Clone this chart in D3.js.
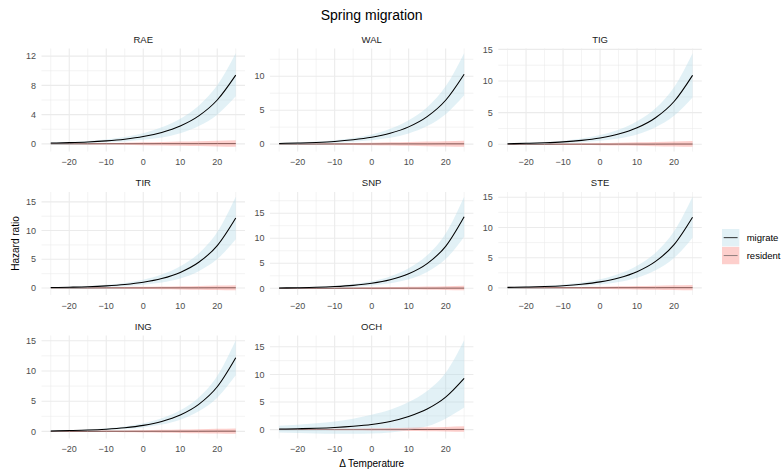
<!DOCTYPE html>
<html>
<head>
<meta charset="utf-8">
<script src="https://cdn.jsdelivr.net/npm/d3@7"></script>
<style>
  body { margin: 0; background: #fff; }
  text { font-family: "Liberation Sans", Arial, Helvetica, sans-serif; }
</style>
</head>
<body>
<div id="chart"></div>
<script>
// temperature anomaly values the fits were read at
var temps = [-25, -20, -15, -10, -5, 0, 5, 10, 15, 20, 25];
var sites = ["RAE", "WAL", "TIG", "TIR", "SNP", "STE", "ING", "OCH"];
var xTicks = [-20, -10, 0, 10, 20];

// migrate: estimate, lower and upper band
var migEstRAE = [0.11, 0.17, 0.26, 0.41, 0.64, 1.0, 1.57, 2.45, 3.83, 6.0, 9.4];
var migLoRAE  = [0.04, 0.07, 0.12, 0.21, 0.34, 0.55, 0.87, 1.45, 2.43, 4.0, 6.5];
var migHiRAE  = [0.18, 0.27, 0.40, 0.61, 0.94, 1.45, 2.27, 3.45, 5.23, 8.0, 12.4];

var migEstWAL = [0.10, 0.16, 0.25, 0.39, 0.63, 1.0, 1.59, 2.54, 4.05, 6.46, 10.3];
var migLoWAL  = [0.04, 0.07, 0.12, 0.20, 0.35, 0.58, 0.93, 1.57, 2.65, 4.41, 7.2];
var migHiWAL  = [0.16, 0.25, 0.38, 0.58, 0.91, 1.42, 2.25, 3.51, 5.45, 8.51, 13.4];

var migEstTIG = [0.09, 0.15, 0.24, 0.38, 0.62, 1.0, 1.61, 2.60, 4.19, 6.76, 10.9];
var migLoTIG  = [0.03, 0.06, 0.11, 0.19, 0.33, 0.55, 0.91, 1.55, 2.69, 4.51, 7.4];
var migHiTIG  = [0.15, 0.24, 0.37, 0.57, 0.91, 1.45, 2.31, 3.65, 5.69, 9.01, 14.4];

var migEstTIR = [0.08, 0.14, 0.22, 0.37, 0.61, 1.0, 1.65, 2.72, 4.48, 7.39, 12.2];
var migLoTIR  = [0.03, 0.06, 0.10, 0.19, 0.33, 0.56, 0.96, 1.65, 2.93, 5.04, 8.5];
var migHiTIR  = [0.13, 0.22, 0.34, 0.55, 0.89, 1.44, 2.34, 3.79, 6.03, 9.74, 15.9];

var migEstSNP = [0.07, 0.12, 0.20, 0.35, 0.59, 1.0, 1.70, 2.90, 4.93, 8.39, 14.3];
var migLoSNP  = [0.03, 0.05, 0.09, 0.19, 0.33, 0.58, 1.02, 1.80, 3.28, 5.84, 10.3];
var migHiSNP  = [0.11, 0.19, 0.31, 0.51, 0.85, 1.42, 2.38, 4.00, 6.58, 10.94, 18.3];

var migEstSTE = [0.085, 0.14, 0.23, 0.37, 0.61, 1.0, 1.64, 2.68, 4.38, 7.16, 11.7];
var migLoSTE  = [0.04, 0.06, 0.11, 0.19, 0.34, 0.58, 0.98, 1.68, 2.93, 4.96, 8.3];
var migHiSTE  = [0.14, 0.22, 0.35, 0.55, 0.88, 1.42, 2.30, 3.68, 5.83, 9.36, 15.1];

var migEstING = [0.08, 0.14, 0.22, 0.37, 0.61, 1.0, 1.65, 2.72, 4.48, 7.39, 12.2];
var migLoING  = [0.04, 0.08, 0.13, 0.23, 0.39, 0.66, 1.13, 1.94, 3.33, 5.59, 9.3];
var migHiING  = [0.12, 0.20, 0.31, 0.51, 0.83, 1.34, 2.17, 3.50, 5.63, 9.19, 15.1];

var migEstOCH = [0.11, 0.17, 0.26, 0.40, 0.62, 0.95, 1.5, 2.4, 3.75, 5.9, 9.3];
var migLoOCH  = [-0.5, -0.6, -0.7, -0.75, -0.75, -0.7, -0.5, -0.1, 0.6, 2.0, 4.0];
var migHiOCH  = [0.7, 0.9, 1.15, 1.5, 2.0, 2.7, 3.6, 5.0, 7.0, 10.3, 16.2];

// resident: estimate, lower and upper band
var resEstRAE = [0.01, 0.01, 0.01, 0.02, 0.02, 0.02, 0.03, 0.03, 0.03, 0.04, 0.04];
var resLoRAE  = [-0.03, -0.05, -0.07, -0.10, -0.13, -0.17, -0.21, -0.25, -0.30, -0.35, -0.40];
var resHiRAE  = [0.05, 0.07, 0.10, 0.13, 0.17, 0.21, 0.26, 0.31, 0.37, 0.43, 0.50];

var resEstWAL = [0.01, 0.01, 0.01, 0.02, 0.02, 0.02, 0.03, 0.03, 0.03, 0.04, 0.04];
var resLoWAL  = [-0.03, -0.05, -0.07, -0.10, -0.13, -0.17, -0.21, -0.25, -0.30, -0.35, -0.40];
var resHiWAL  = [0.05, 0.07, 0.10, 0.13, 0.17, 0.21, 0.26, 0.31, 0.37, 0.43, 0.50];

var resEstTIG = [0.01, 0.01, 0.01, 0.02, 0.02, 0.02, 0.03, 0.03, 0.03, 0.04, 0.04];
var resLoTIG  = [-0.03, -0.05, -0.07, -0.10, -0.13, -0.17, -0.21, -0.25, -0.30, -0.35, -0.40];
var resHiTIG  = [0.05, 0.07, 0.10, 0.13, 0.17, 0.21, 0.26, 0.31, 0.37, 0.43, 0.50];

var resEstTIR = [0.01, 0.01, 0.01, 0.02, 0.02, 0.02, 0.03, 0.03, 0.03, 0.04, 0.04];
var resLoTIR  = [-0.03, -0.05, -0.07, -0.10, -0.13, -0.17, -0.21, -0.25, -0.30, -0.35, -0.40];
var resHiTIR  = [0.05, 0.07, 0.10, 0.13, 0.17, 0.21, 0.26, 0.31, 0.37, 0.43, 0.50];

var resEstSNP = [0.01, 0.01, 0.01, 0.02, 0.02, 0.02, 0.03, 0.03, 0.03, 0.04, 0.04];
var resLoSNP  = [-0.03, -0.05, -0.07, -0.10, -0.13, -0.17, -0.21, -0.25, -0.30, -0.35, -0.40];
var resHiSNP  = [0.05, 0.07, 0.10, 0.13, 0.17, 0.21, 0.26, 0.31, 0.37, 0.43, 0.50];

var resEstSTE = [0.01, 0.01, 0.01, 0.02, 0.02, 0.02, 0.03, 0.03, 0.03, 0.04, 0.04];
var resLoSTE  = [-0.03, -0.05, -0.07, -0.10, -0.13, -0.17, -0.21, -0.25, -0.30, -0.35, -0.40];
var resHiSTE  = [0.05, 0.07, 0.10, 0.13, 0.17, 0.21, 0.26, 0.31, 0.37, 0.43, 0.50];

var resEstING = [0.01, 0.01, 0.01, 0.02, 0.02, 0.02, 0.03, 0.03, 0.03, 0.04, 0.04];
var resLoING  = [-0.03, -0.05, -0.07, -0.10, -0.13, -0.17, -0.21, -0.25, -0.30, -0.35, -0.40];
var resHiING  = [0.05, 0.07, 0.10, 0.13, 0.17, 0.21, 0.26, 0.31, 0.37, 0.43, 0.50];

var resEstOCH = [0.01, 0.01, 0.01, 0.02, 0.02, 0.02, 0.03, 0.03, 0.04, 0.04, 0.05];
var resLoOCH  = [-0.03, -0.05, -0.07, -0.09, -0.12, -0.15, -0.19, -0.23, -0.27, -0.31, -0.36];
var resHiOCH  = [0.06, 0.08, 0.11, 0.15, 0.19, 0.24, 0.29, 0.35, 0.42, 0.50, 0.60];

// y tick labels for each facet (free y scales)
var yTicksRAE = [0, 4, 8, 12];
var yTicksWAL = [0, 5, 10];
var yTicksTIG = [0, 5, 10, 15];
var yTicksTIR = [0, 5, 10, 15];
var yTicksSNP = [0, 5, 10, 15];
var yTicksSTE = [0, 5, 10, 15];
var yTicksING = [0, 5, 10, 15];
var yTicksOCH = [0, 5, 10, 15];

var fitTable = {
  RAE: [migEstRAE, migLoRAE, migHiRAE, resEstRAE, resLoRAE, resHiRAE, yTicksRAE],
  WAL: [migEstWAL, migLoWAL, migHiWAL, resEstWAL, resLoWAL, resHiWAL, yTicksWAL],
  TIG: [migEstTIG, migLoTIG, migHiTIG, resEstTIG, resLoTIG, resHiTIG, yTicksTIG],
  TIR: [migEstTIR, migLoTIR, migHiTIR, resEstTIR, resLoTIR, resHiTIR, yTicksTIR],
  SNP: [migEstSNP, migLoSNP, migHiSNP, resEstSNP, resLoSNP, resHiSNP, yTicksSNP],
  STE: [migEstSTE, migLoSTE, migHiSTE, resEstSTE, resLoSTE, resHiSTE, yTicksSTE],
  ING: [migEstING, migLoING, migHiING, resEstING, resLoING, resHiING, yTicksING],
  OCH: [migEstOCH, migLoOCH, migHiOCH, resEstOCH, resLoOCH, resHiOCH, yTicksOCH]
};

var width = 782, height = 470;
var panelW = 203.5, panelH = 103;
var colX = [41.5, 269.9, 498.3];
var rowY = [48.5, 192, 335.5];

var fillMig = "#add8e6", fillRes = "#f8766d", bandOpacity = 0.35;
var lineMig = "#000000", lineRes = "#4a4a4a";
var gridCol = "#ebebeb";

var svg = d3.select("#chart").append("svg")
    .attr("width", width)
    .attr("height", height);

var x = d3.scaleLinear().domain([-27.5, 27.5]).range([0, panelW]);
var xMinor = [-25, -15, -5, 5, 15, 25];
var fmt = d3.format("");

sites.forEach(function(site, i) {
  var f = fitTable[site];
  var col = i % 3, row = Math.floor(i / 3);
  var mig = temps.map(function(t, j) { return { t: t, est: f[0][j], lo: f[1][j], hi: f[2][j] }; });
  var res = temps.map(function(t, j) { return { t: t, est: f[3][j], lo: f[4][j], hi: f[5][j] }; });
  var ticks = f[6];

  // ggplot style: data range expanded by 5% each side
  var lo = d3.min(f[1].concat(f[4])), hi = d3.max(f[2].concat(f[5]));
  var pad = (hi - lo) * 0.05;
  var y = d3.scaleLinear().domain([lo - pad, hi + pad]).range([panelH, 0]);

  var step = ticks[1] - ticks[0];
  var yMinor = [];
  for (var k = -1; k < ticks.length; k++) {
    var m = ticks[0] + step * k + step / 2;
    if (m >= y.domain()[0] && m <= y.domain()[1]) yMinor.push(m);
  }

  var g = svg.append("g")
      .attr("transform", "translate(" + colX[col] + "," + rowY[row] + ")");

  // minor grid
  g.selectAll(".vminor").data(xMinor).enter().append("line")
      .attr("x1", d => x(d)).attr("x2", d => x(d))
      .attr("y1", 0).attr("y2", panelH)
      .attr("stroke", gridCol).attr("stroke-width", 0.6);
  g.selectAll(".hminor").data(yMinor).enter().append("line")
      .attr("x1", 0).attr("x2", panelW)
      .attr("y1", d => y(d)).attr("y2", d => y(d))
      .attr("stroke", gridCol).attr("stroke-width", 0.6);
  // major grid
  g.selectAll(".vmajor").data(xTicks).enter().append("line")
      .attr("x1", d => x(d)).attr("x2", d => x(d))
      .attr("y1", 0).attr("y2", panelH)
      .attr("stroke", gridCol).attr("stroke-width", 1.1);
  g.selectAll(".hmajor").data(ticks).enter().append("line")
      .attr("x1", 0).attr("x2", panelW)
      .attr("y1", d => y(d)).attr("y2", d => y(d))
      .attr("stroke", gridCol).attr("stroke-width", 1.1);

  var line = d3.line().x(d => x(d.t)).y(d => y(d.est)).curve(d3.curveMonotoneX);
  var area = d3.area().x(d => x(d.t)).y0(d => y(d.lo)).y1(d => y(d.hi)).curve(d3.curveMonotoneX);

  // resident line sits under its band (tinted), migrate line drawn on top
  g.append("path").datum(res).attr("d", line)
      .attr("fill", "none").attr("stroke", lineRes).attr("stroke-width", 1);
  g.append("path").datum(mig).attr("d", area)
      .attr("fill", fillMig).attr("opacity", bandOpacity);
  g.append("path").datum(res).attr("d", area)
      .attr("fill", fillRes).attr("opacity", bandOpacity);
  g.append("path").datum(mig).attr("d", line)
      .attr("fill", "none").attr("stroke", lineMig).attr("stroke-width", 1.05);

  // tick labels
  g.selectAll(".xlab").data(xTicks).enter().append("text")
      .attr("x", d => x(d)).attr("y", panelH + 13.8)
      .attr("text-anchor", "middle")
      .attr("font-size", "9px").attr("fill", "#4d4d4d")
      .text(d => fmt(d));
  g.selectAll(".ylab").data(ticks).enter().append("text")
      .attr("x", -5.5).attr("y", d => y(d) + 3.2)
      .attr("text-anchor", "end")
      .attr("font-size", "9px").attr("fill", "#4d4d4d")
      .text(d => fmt(d));

  // facet strip
  g.append("text")
      .attr("x", panelW / 2).attr("y", -6)
      .attr("text-anchor", "middle")
      .attr("font-size", "9.5px").attr("fill", "#1a1a1a")
      .text(site);
});

var midX = colX[0] + (colX[2] + panelW - colX[0]) / 2;

svg.append("text")
    .attr("x", midX).attr("y", 20)
    .attr("text-anchor", "middle")
    .attr("font-size", "14px").attr("fill", "#000")
    .text("Spring migration");

svg.append("text")
    .attr("x", midX).attr("y", 466.5)
    .attr("text-anchor", "middle")
    .attr("font-size", "10px").attr("fill", "#000")
    .text("Δ Temperature");

svg.append("text")
    .attr("transform", "translate(18.5," + ((rowY[0] + rowY[2] + panelH) / 2) + ") rotate(-90)")
    .attr("text-anchor", "middle")
    .attr("font-size", "10px").attr("fill", "#000")
    .text("Hazard ratio");

// legend
var legendItems = [
  { label: "migrate", fill: fillMig, stroke: lineMig },
  { label: "resident", fill: fillRes, stroke: lineRes }
];
var legend = svg.append("g").attr("transform", "translate(722,229)");
var key = 17.3;
legendItems.forEach(function(d, i) {
  var k = legend.append("g").attr("transform", "translate(0," + (i * (key + 0.6)) + ")");
  k.append("rect")
      .attr("width", key).attr("height", key)
      .attr("fill", d.fill).attr("opacity", bandOpacity);
  k.append("line")
      .attr("x1", 1.7).attr("x2", key - 1.7)
      .attr("y1", key / 2).attr("y2", key / 2)
      .attr("stroke", d.stroke).attr("stroke-opacity", i === 0 ? 0.8 : 0.6)
      .attr("stroke-width", 1);
  k.append("text")
      .attr("x", key + 7.4).attr("y", key / 2 + 3.3)
      .attr("font-size", "9.5px").attr("fill", "#000")
      .text(d.label);
});
</script>
</body>
</html>
